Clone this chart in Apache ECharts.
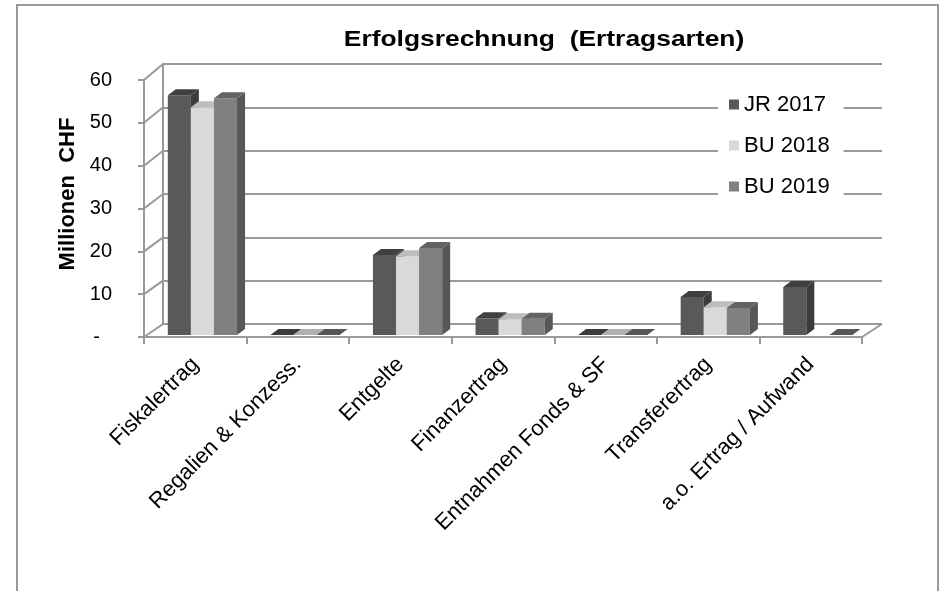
<!DOCTYPE html>
<html>
<head>
<meta charset="utf-8">
<script src="https://cdn.jsdelivr.net/npm/echarts@6/dist/echarts.min.js"></script>
<style>
html,body{margin:0;padding:0;background:#fff;}
#c{width:941px;height:591px;}
</style>
</head>
<body>
<div id="c"></div>
<script>
// ---- data ----
const categories = ['Fiskalertrag', 'Regalien & Konzess.', 'Entgelte', 'Finanzertrag', 'Entnahmen Fonds & SF', 'Transferertrag', 'a.o. Ertrag / Aufwand'];
const seriesNames = ['JR 2017', 'BU 2018', 'BU 2019'];
const jr2017 = [56.0, 0, 18.7, 3.9, 0, 8.9, 11.2];
const bu2018 = [53.2, 0, 18.4, 3.7, 0, 6.5, null];
const bu2019 = [55.3, 0, 20.3, 3.8, 0, 6.3, 0];
const yMin = 0, yMax = 60, yStep = 10;
const titleText = 'Erfolgsrechnung  (Ertragsarten)';
const yName = 'Millionen  CHF';

// ---- styles ----
const FONT = '"Liberation Sans", Arial, sans-serif';
const GRID_COLOR = '#999999';
const palette = [
  {front: '#595959', top: '#404040', side: '#3c3c3c'},
  {front: '#d9d9d9', top: '#bdbdbd', side: '#b0b0b0'},
  {front: '#808080', top: '#636363', side: '#575757'}
];
const DEPTH_DX = 8, DEPTH_DY = -6;   // bar depth

function makeRender(idx) {
  const col = palette[idx];
  return function (params, api) {
    const cat = api.value(0);
    const v = api.value(1);
    if (v === null || v === undefined || isNaN(v)) return null;
    const cw = api.size([1, 0])[0];
    const c0 = api.coord([cat, 0]);
    const c1 = api.coord([cat, v]);
    const bw = cw * 0.225;
    const x0 = c0[0] - cw / 2 + cw * 0.232 + idx * bw;
    const yb = c0[1] - 2;
    const yt = c1[1] - 2;
    const children = [];
    if (yb - yt > 0.5) {
      children.push({type: 'rect', shape: {x: x0, y: yt, width: bw, height: yb - yt}, style: {fill: col.front}});
      children.push({type: 'polygon', shape: {points: [[x0 + bw, yt], [x0 + bw + DEPTH_DX, yt + DEPTH_DY], [x0 + bw + DEPTH_DX, yb + DEPTH_DY], [x0 + bw, yb]]}, style: {fill: col.side}});
    }
    children.push({type: 'polygon', shape: {points: [[x0, yt], [x0 + bw, yt], [x0 + bw + DEPTH_DX, yt + DEPTH_DY], [x0 + DEPTH_DX, yt + DEPTH_DY]]}, style: {fill: v === 0 ? col.side : col.top}});
    return {type: 'group', children: children};
  };
}

const allSeries = [jr2017, bu2018, bu2019];

const chart = echarts.init(document.getElementById('c'), null, {renderer: 'canvas'});
const option = {
  animation: false,
  backgroundColor: '#ffffff',
  legend: {
    orient: 'vertical',
    left: 718, top: 86,
    padding: [6, 14, 6, 11],
    backgroundColor: '#ffffff',
    itemWidth: 10, itemHeight: 10,
    itemGap: 16,
    icon: 'rect',
    textStyle: {fontFamily: FONT, fontSize: 22, color: '#000', lineHeight: 25},
    data: seriesNames
  },
  grid: [
    {left: 144, top: 80, width: 718, height: 257},
    {left: 163, top: 64, width: 719, height: 260}
  ],
  xAxis: [
    {
      type: 'category', gridIndex: 0, data: categories, boundaryGap: true,
      axisLine: {show: true, lineStyle: {color: GRID_COLOR, width: 2}},
      axisTick: {show: true, length: 7, lineStyle: {color: GRID_COLOR, width: 2}},
      axisLabel: {rotate: 45, interval: 0, margin: 24, fontFamily: FONT, fontSize: 22, color: '#000'},
      splitLine: {show: false}
    },
    {
      type: 'category', gridIndex: 1, data: categories, boundaryGap: true, show: false
    }
  ],
  yAxis: [
    {
      type: 'value', gridIndex: 0, min: yMin, max: yMax, interval: yStep,
      axisLine: {show: true, lineStyle: {color: GRID_COLOR, width: 2}},
      axisTick: {show: true, length: 6, lineStyle: {color: GRID_COLOR, width: 2}},
      axisLabel: {
        margin: 32, fontFamily: FONT, fontSize: 20, color: '#000',
        formatter: function (v) { return v === 0 ? '{d|-}' : String(v); },
        rich: {d: {fontFamily: FONT, fontSize: 20, color: '#000', padding: [0, 12, 0, 0]}}
      },
      splitLine: {show: false}
    },
    {
      type: 'value', gridIndex: 1, min: yMin, max: yMax, interval: yStep,
      axisLine: {show: true, lineStyle: {color: GRID_COLOR, width: 2}},
      axisTick: {show: false},
      axisLabel: {show: false},
      splitLine: {show: true, lineStyle: {color: GRID_COLOR, width: 2}}
    }
  ],
  series: allSeries.map(function (arr, i) {
    return {
      name: seriesNames[i],
      type: 'custom',
      xAxisIndex: 0, yAxisIndex: 0,
      itemStyle: {color: palette[i].front},
      encode: {x: 0, y: 1},
      renderItem: makeRender(i),
      data: arr.map(function (v, k) { return [k, v === null ? '-' : v]; }),
      z: 5
    };
  })
};
chart.setOption(option);

// walls derived from the axes
function buildWalls() {
  const fx0 = chart.convertToPixel({xAxisIndex: 0}, 0);
  const fx1 = chart.convertToPixel({xAxisIndex: 0}, 1);
  const cw = fx1 - fx0;
  const fLeft = fx0 - cw / 2;
  const fRight = chart.convertToPixel({xAxisIndex: 0}, categories.length - 1) + cw / 2;
  const bx0 = chart.convertToPixel({xAxisIndex: 1}, 0);
  const bx1 = chart.convertToPixel({xAxisIndex: 1}, 1);
  const bcw = bx1 - bx0;
  const bLeft = bx0 - bcw / 2;
  const bRight = chart.convertToPixel({xAxisIndex: 1}, categories.length - 1) + bcw / 2;
  const g = [];
  for (let v = yMin; v <= yMax; v += yStep) {
    const fy = chart.convertToPixel({yAxisIndex: 0}, v);
    const by = chart.convertToPixel({yAxisIndex: 1}, v);
    g.push({type: 'line', shape: {x1: fLeft, y1: fy, x2: bLeft, y2: by}, style: {stroke: GRID_COLOR, lineWidth: 2}, z: 1});
  }
  const fy0 = chart.convertToPixel({yAxisIndex: 0}, yMin);
  const by0 = chart.convertToPixel({yAxisIndex: 1}, yMin);
  g.push({type: 'line', shape: {x1: fRight, y1: fy0, x2: bRight, y2: by0}, style: {stroke: GRID_COLOR, lineWidth: 2}, z: 1});
  // outer chart border
  g.push({type: 'rect', shape: {x: 17, y: 5, width: 921, height: 600}, style: {fill: 'none', stroke: '#9a9a9a', lineWidth: 2}, z: 0});
  // title
  g.push({type: 'text', x: 544, y: 40, scaleX: 1.2,
    style: {text: titleText, font: 'bold 22px ' + FONT, fill: '#000', align: 'center', verticalAlign: 'middle'}, z: 10});
  // y axis name
  g.push({type: 'text', x: 68, y: 194, rotation: Math.PI / 2,
    style: {text: yName, font: 'bold 22px ' + FONT, fill: '#000', align: 'center', verticalAlign: 'middle'}, z: 10});
  chart.setOption({graphic: g});
}
buildWalls();
</script>
</body>
</html>
